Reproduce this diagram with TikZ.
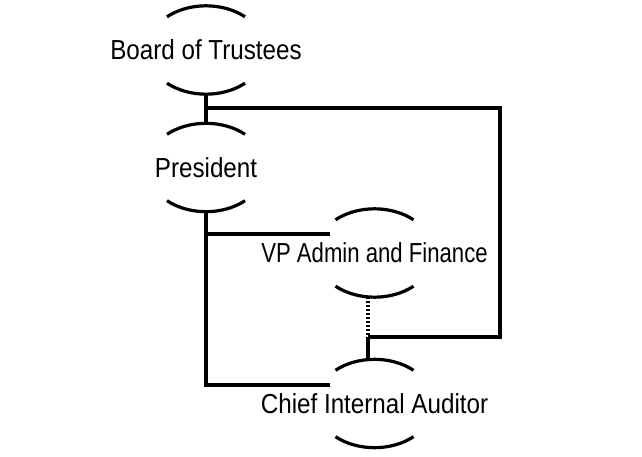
\documentclass[tikz,border=0pt]{standalone}
\usepackage{fontspec}
\newfontfamily\orgfont[FakeStretch=0.88]{Liberation Sans}
\newfontfamily\orgfontvp[FakeStretch=0.805]{Liberation Sans}
\usetikzlibrary{calc}
\tikzset{
  orgbox/.style={inner sep=0pt, minimum height=88pt, text height=19.5pt, text depth=0pt,
    font=\orgfont\fontsize{27.5}{30}\selectfont},
  vpfont/.style={font=\orgfontvp\fontsize{27.5}{30}\selectfont},
  link/.style={line width=3.2pt},
  dotlink/.style={line width=3.2pt, dash pattern=on 2pt off 2pt},
  arcline/.style={line width=3.2pt},
}
\newcommand\orgarcs[1]{%
  \draw[arcline] ($(#1.north)+(-39,-11)$) arc[start angle=131.4,end angle=48.6,x radius=59,y radius=44];
  \draw[arcline] ($(#1.south)+(-39,11)$) arc[start angle=228.6,end angle=311.4,x radius=59,y radius=44];}
\begin{document}
\begin{tikzpicture}[x=1pt,y=1pt]
\fill[white] (0,0) rectangle (642,-457);
\useasboundingbox (0,0) rectangle (642,-457);
\node[orgbox] (b) at (206,-50) {Board of Trustees};
\node[orgbox] (p) at (206,-167.5) {President};
\node[orgbox, vpfont] (v) at (374.5,-253) {VP Admin and Finance};
\node[orgbox] (c) at (374.5,-403.5) {Chief Internal Auditor};
\orgarcs{b}
\orgarcs{p}
\orgarcs{v}
\orgarcs{c}
\coordinate (j1) at (206,-108);
\coordinate (e1) at (500,-108);
\coordinate (e2) at (500,-337);
\coordinate (j2) at (368,-337);
\coordinate (vl) at (330,-234);
\coordinate (cl) at (330,-385);
\draw[link] (b.south) -- (p.north);
\draw[link] (j1) -- (e1) -- (e2) -- (j2);
\draw[dotlink] (v.south -| j2) -- (j2);
\draw[link] (j2) -- (c.north -| j2);
\draw[link] (p.south) |- (cl);
\draw[link] (p.south |- vl) -- (vl);
\end{tikzpicture}
\end{document}
